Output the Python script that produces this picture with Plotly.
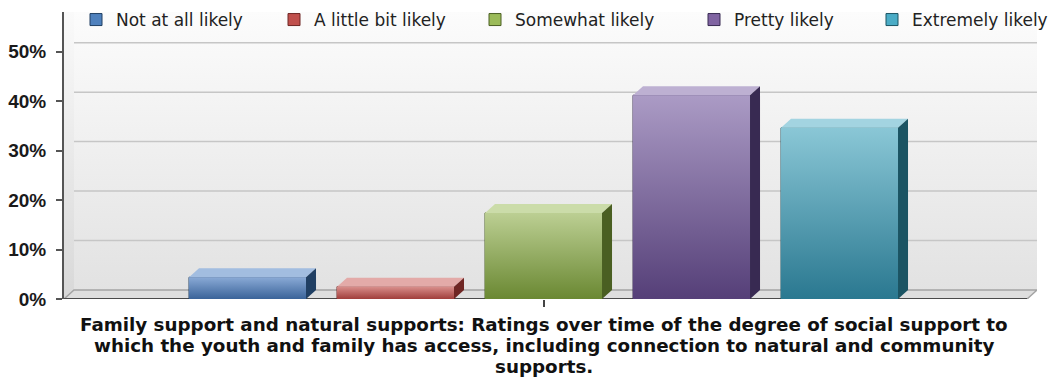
import plotly.graph_objects as go

# ---- data -------------------------------------------------------------
SERIES = ["Not at all likely", "A little bit likely", "Somewhat likely",
          "Pretty likely", "Extremely likely"]
VALUES = [4.4, 2.5, 17.4, 41.2, 34.6]          # percent of responses
Y_TICKS = [0, 10, 20, 30, 40, 50]
TITLE_LINES = [
    "Family support and natural supports: Ratings over time of the degree of social support to",
    "which the youth and family has access, including connection to natural and community",
    "supports.",
]

# ---- colours (Office-style palette with 3-D shading) ---------------------
BASE = ["#4f81bd", "#c0504d", "#9bbb59", "#8064a2", "#4bacc6"]
FRONT_TOP = ["#8aaad6", "#d98f8c", "#bccf93", "#ab9bc5", "#8ac7d6"]
FRONT_BOTTOM = ["#3a6399", "#a03e3b", "#6a8832", "#553f78", "#2a7890"]
TOP_FACE = ["#a2bde0", "#e3aaa8", "#cbdca9", "#bdb0d2", "#a3d4e1"]
SIDE_FACE = ["#203f63", "#6f2624", "#4a5f22", "#382a52", "#1b5463"]

# ---- geometry ----------------------------------------------------------
W, H = 1049, 383
ML, MR, MT, MB = 64, 12, 12, 84
PLOT_W, PLOT_H = W - ML - MR, H - MT - MB
PX_PER_SLOT = 148.0          # horizontal pixels per bar slot
PX_PER_PCT = 4.946           # vertical pixels per percent
X0 = -3.24
X1 = X0 + PLOT_W / PX_PER_SLOT
Y1 = PLOT_H / PX_PER_PCT
DX = 10 / PX_PER_SLOT        # depth offset (to the right)
DY = 9 / PX_PER_PCT          # depth offset (upwards)
BAR_W = 117 / PX_PER_SLOT
FLOOR_END = 3.267

n = len(SERIES)
positions = [i - (n - 1) / 2 for i in range(n)]

fig = go.Figure()

# ---- bars (overlay subplot, so they sit in front of the walls) ---------
for i, (name, v, x) in enumerate(zip(SERIES, VALUES, positions)):
    fig.add_trace(go.Bar(
        x=[x], y=[v], width=BAR_W, name=name,
        marker=dict(color=BASE[i], line=dict(color=SIDE_FACE[i], width=1)),
        xaxis="x2", yaxis="y2",
        legend="legend" if i == 0 else f"legend{i + 1}",
        hovertemplate=f"{name}: %{{y}}%<extra></extra>",
    ))

# ---- chart walls, floor and gridlines ---------------------------------
fig.add_trace(go.Scatter(
    x=[X0 + DX, FLOOR_END + DX, FLOOR_END + DX, X0 + DX],
    y=[DY, DY, Y1, Y1], fill="toself", mode="lines", line=dict(width=0),
    fillgradient=dict(type="vertical",
                      colorscale=[[0, "#e2e2e2"], [1, "#fcfcfc"]]),
    hoverinfo="skip", showlegend=False))
fig.add_trace(go.Scatter(
    x=[X0, X0 + DX, X0 + DX, X0], y=[0, DY, Y1, Y1],
    fill="toself", mode="lines", line=dict(width=0),
    fillgradient=dict(type="vertical",
                      colorscale=[[0, "#d8d8d8"], [1, "#fafafa"]]),
    hoverinfo="skip", showlegend=False))
fig.add_trace(go.Scatter(
    x=[X0, FLOOR_END, FLOOR_END + DX, X0 + DX], y=[0, 0, DY, DY],
    fill="toself", mode="lines", line=dict(width=0), fillcolor="#dedede",
    hoverinfo="skip", showlegend=False))

gx, gy = [], []
for t in Y_TICKS[1:]:
    gx += [X0 + DX, FLOOR_END + DX, None]
    gy += [t + DY, t + DY, None]
fig.add_trace(go.Scatter(x=gx, y=gy, mode="lines",
                         line=dict(color="#c6c6c6", width=1.5),
                         hoverinfo="skip", showlegend=False))
fig.add_trace(go.Scatter(
    x=[X0, X0 + DX, FLOOR_END + DX, FLOOR_END], y=[0, DY, DY, 0],
    mode="lines", line=dict(color="#a4a4a4", width=1.5),
    hoverinfo="skip", showlegend=False))
fig.add_trace(go.Scatter(
    x=[X0, FLOOR_END], y=[0, 0], mode="lines",
    line=dict(color="#4a4a4a", width=2),
    hoverinfo="skip", showlegend=False))

# ---- shaded faces of each bar -----------------------------------------
for i, (v, x) in enumerate(zip(VALUES, positions)):
    xl, xr = x - BAR_W / 2, x + BAR_W / 2
    # front face
    fig.add_trace(go.Scatter(
        x=[xl, xr, xr, xl], y=[0, 0, v, v], fill="toself",
        mode="lines", line=dict(width=0),
        fillgradient=dict(type="vertical",
                          colorscale=[[0, FRONT_BOTTOM[i]], [1, FRONT_TOP[i]]]),
        xaxis="x2", yaxis="y2", hoverinfo="skip", showlegend=False))
    # top face
    fig.add_trace(go.Scatter(
        x=[xl, xl + DX, xr + DX, xr], y=[v, v + DY, v + DY, v], fill="toself",
        mode="lines", line=dict(width=0), fillcolor=TOP_FACE[i],
        xaxis="x2", yaxis="y2", hoverinfo="skip", showlegend=False))
    # side face
    fig.add_trace(go.Scatter(
        x=[xr, xr + DX, xr + DX, xr], y=[0, DY, v + DY, v], fill="toself",
        mode="lines", line=dict(width=0), fillcolor=SIDE_FACE[i],
        xaxis="x2", yaxis="y2", hoverinfo="skip", showlegend=False))

# ---- category title under the axis ------------------------------------
TITLE_Y_PX = [324.5, 345.5, 366.5]
for line, ypx in zip(TITLE_LINES, TITLE_Y_PX):
    fig.add_annotation(
        text=line, x=0, xref="x", xanchor="center",
        y=(H - MB - ypx) / PLOT_H, yref="paper", yanchor="middle",
        showarrow=False,
        font=dict(family="DejaVu Sans, sans-serif",
                  size=18.3, color="#111111", weight="bold"))

# ---- legends: one per series so each entry sits at its own spot -------
LEGEND_PX = [90, 288, 489, 708, 886]
legend_font = dict(family="DejaVu Sans, sans-serif", size=17, color="#222222")
layout_legends = {}
for i, px in enumerate(LEGEND_PX):
    key = "legend" if i == 0 else f"legend{i + 1}"
    layout_legends[key] = dict(
        x=(px - 14 - ML) / PLOT_W, xanchor="left",
        y=(H - MB - 20) / PLOT_H, yanchor="middle",
        orientation="h", font=legend_font, bgcolor="rgba(0,0,0,0)",
        borderwidth=0)

axis_common = dict(range=[X0, X1], showgrid=False, zeroline=False)
fig.update_layout(
    width=W, height=H,
    margin=dict(l=ML, r=MR, t=MT, b=MB, pad=0, autoexpand=False),
    paper_bgcolor="white", plot_bgcolor="white",
    barmode="overlay", showlegend=True,
    xaxis=dict(**axis_common, showline=False, tickvals=[0], ticktext=[""],
               ticks="outside", ticklen=7, tickwidth=1.5, tickcolor="#444444",
               fixedrange=True),
    xaxis2=dict(**axis_common, overlaying="x", visible=False, fixedrange=True),
    yaxis=dict(range=[0, Y1], tickvals=Y_TICKS,
               ticktext=[f"{t}%" for t in Y_TICKS],
               ticks="outside", ticklen=6, tickwidth=1.5, tickcolor="#555555",
               showline=True, linecolor="#555555", linewidth=2,
               showgrid=False, zeroline=False, fixedrange=True,
               ticklabelstandoff=6,
               tickfont=dict(family="Liberation Sans, Arial, sans-serif",
                             size=19, color="#1a1a1a", weight="bold")),
    yaxis2=dict(range=[0, Y1], overlaying="y", visible=False, fixedrange=True),
    **layout_legends,
)

fig.write_html("out.html")
